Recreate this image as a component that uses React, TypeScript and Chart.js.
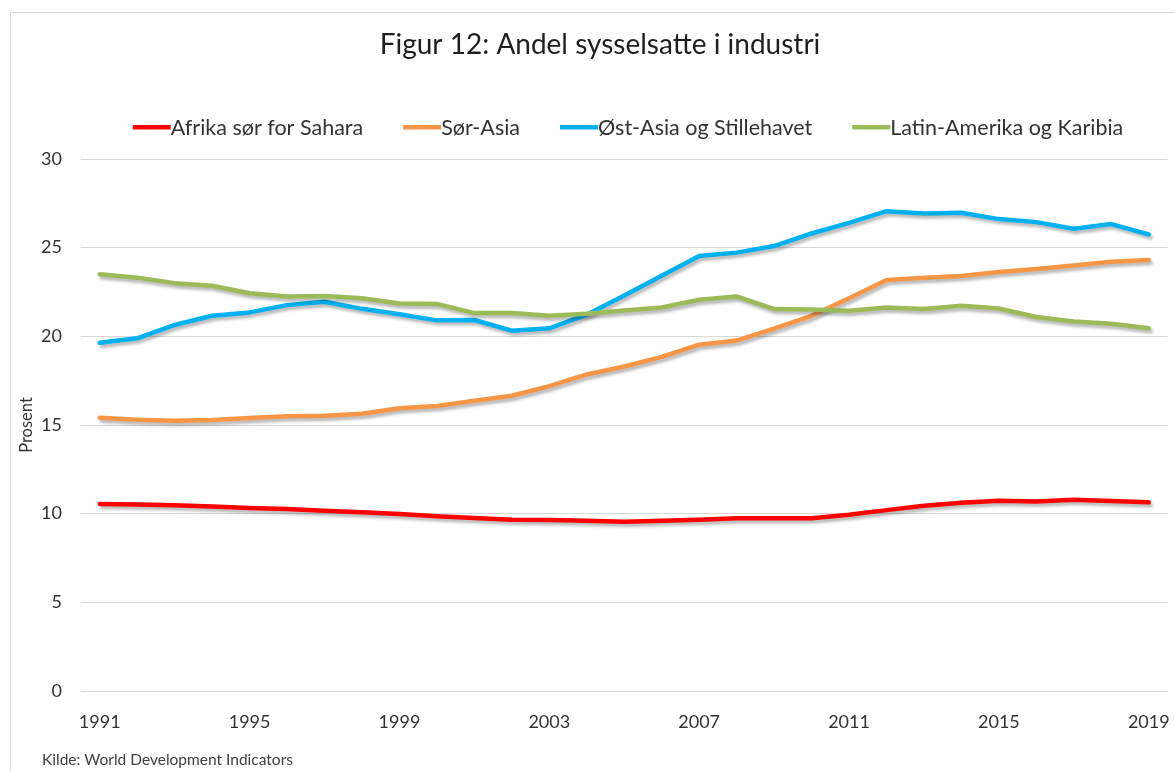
import React, { useEffect, useRef } from "react";
import { Chart, registerables } from "chart.js";

Chart.register(...registerables);

const years = [
  "1991", "1992", "1993", "1994", "1995", "1996", "1997", "1998", "1999", "2000",
  "2001", "2002", "2003", "2004", "2005", "2006", "2007", "2008", "2009", "2010",
  "2011", "2012", "2013", "2014", "2015", "2016", "2017", "2018", "2019",
];
const xTickLabels = ["1991", "1995", "1999", "2003", "2007", "2011", "2015", "2019"];

const seriesNames = [
  "Afrika sør for Sahara",
  "Sør-Asia",
  "Øst-Asia og Stillehavet",
  "Latin-Amerika og Karibia",
];
const seriesColors = ["#FF0000", "#F79646", "#00B0F0", "#9BBB59"];

const afrika = [
  10.55, 10.51, 10.47, 10.41, 10.32, 10.26, 10.17, 10.08, 9.98, 9.85,
  9.76, 9.66, 9.64, 9.6, 9.55, 9.6, 9.66, 9.74, 9.74, 9.74,
  9.94, 10.2, 10.45, 10.62, 10.73, 10.68, 10.79, 10.71, 10.64,
];
const sorAsia = [
  15.41, 15.3, 15.24, 15.28, 15.39, 15.49, 15.52, 15.64, 15.94, 16.07,
  16.37, 16.65, 17.19, 17.85, 18.3, 18.84, 19.53, 19.76, 20.43, 21.16,
  22.15, 23.18, 23.31, 23.4, 23.63, 23.8, 24.0, 24.2, 24.31,
];
const ostAsia = [
  19.64, 19.89, 20.64, 21.16, 21.35, 21.76, 21.95, 21.55, 21.25, 20.9,
  20.92, 20.32, 20.45, 21.22, 22.3, 23.41, 24.53, 24.72, 25.09, 25.8,
  26.4, 27.06, 26.93, 26.97, 26.61, 26.44, 26.07, 26.33, 25.75,
];
const latin = [
  23.5, 23.31, 23.0, 22.85, 22.43, 22.25, 22.28, 22.15, 21.85, 21.83,
  21.31, 21.31, 21.16, 21.27, 21.46, 21.63, 22.06, 22.25, 21.54, 21.52,
  21.44, 21.63, 21.54, 21.72, 21.57, 21.09, 20.84, 20.71, 20.45,
];
const seriesValues = [afrika, sorAsia, ostAsia, latin];

const titleText = "Figur 12: Andel sysselsatte i industri";
const yAxisTitle = "Prosent";
const sourceText = "Kilde: World Development Indicators";

const FONT = "Lato, 'Open Sans', sans-serif";
const W = 1180;
const H = 770;

export default function App() {
  const ref = useRef<HTMLCanvasElement>(null);

  useEffect(() => {
    const canvas = ref.current;
    if (!canvas) return;

    const framePlugin = {
      id: "frame",
      beforeDraw(chart: any) {
        const ctx = chart.ctx;
        ctx.save();
        ctx.fillStyle = "#ffffff";
        ctx.fillRect(0, 0, W, H);
        ctx.strokeStyle = "#d9d9d9";
        ctx.lineWidth = 1;
        ctx.strokeRect(0.5, 0.5, W - 1, H - 1);
        ctx.restore();
      },
      afterDraw(chart: any) {
        const ctx = chart.ctx;
        ctx.save();
        // title
        ctx.fillStyle = "#1f1f1f";
        ctx.font = `28px ${FONT}`;
        ctx.textAlign = "center";
        ctx.textBaseline = "middle";
        ctx.fillText(titleText, 590, 33);

        // legend
        ctx.font = `21.5px ${FONT}`;
        const lineW = 38;
        const gap = 40;
        const widths = seriesNames.map((n) => ctx.measureText(n).width);
        const total =
          widths.reduce((a, b) => a + b, 0) + lineW * seriesNames.length + gap * (seriesNames.length - 1);
        let x = 618 - total / 2;
        const ly = 115;
        ctx.textAlign = "left";
        ctx.textBaseline = "middle";
        seriesNames.forEach((n, i) => {
          ctx.fillStyle = seriesColors[i];
          ctx.fillRect(x, ly - 2, lineW, 4.5);
          x += lineW;
          ctx.fillStyle = "#333333";
          ctx.fillText(n, x, ly + 1);
          x += widths[i] + gap;
        });

        // source
        ctx.font = `15.5px ${FONT}`;
        ctx.fillStyle = "#404040";
        ctx.textAlign = "left";
        ctx.fillText(sourceText, 32, 748);
        ctx.restore();
      },
    };

    const shadowPlugin = {
      id: "lineShadow",
      beforeDatasetDraw(chart: any) {
        const ctx = chart.ctx;
        ctx.save();
        ctx.shadowColor = "rgba(0,0,0,0.28)";
        ctx.shadowBlur = 3;
        ctx.shadowOffsetX = 2;
        ctx.shadowOffsetY = 3;
      },
      afterDatasetDraw(chart: any) {
        chart.ctx.restore();
      },
    };

    const chart = new Chart(canvas, {
      type: "line",
      data: {
        labels: years,
        datasets: seriesValues.map((vals, i) => ({
          label: seriesNames[i],
          data: vals,
          borderColor: seriesColors[i],
          backgroundColor: seriesColors[i],
          borderWidth: 4.5,
          pointRadius: 0,
          tension: 0,
          borderCapStyle: "round" as const,
          borderJoinStyle: "round" as const,
          fill: false,
          order: seriesValues.length - 1 - i,
        })),
      },
      options: {
        responsive: false,
        animation: false,
        devicePixelRatio: 1,
        layout: { padding: { top: 147, left: 0, right: 21, bottom: 0 } },
        plugins: {
          legend: { display: false },
          title: { display: false },
          tooltip: { enabled: false },
        },
        scales: {
          x: {
            offset: true,
            grid: { display: false, drawTicks: false },
            border: { display: false },
            ticks: {
              autoSkip: false,
              maxRotation: 0,
              minRotation: 0,
              padding: 20,
              color: "#333333",
              font: { family: FONT, size: 18 },
              callback: (_v: any, i: number) => (xTickLabels.includes(years[i]) ? years[i] : ""),
            },
            afterFit(scale: any) {
              scale.height = 91;
            },
          },
          y: {
            min: 0,
            max: 30,
            ticks: {
              stepSize: 5,
              padding: 19,
              color: "#333333",
              font: { family: FONT, size: 18 },
            },
            grid: { color: "#d9d9d9", lineWidth: 1, drawTicks: false },
            border: { display: false },
            title: {
              display: true,
              text: yAxisTitle,
              color: "#333333",
              font: { family: FONT, size: 16.5 },
              padding: { top: 7, bottom: 0 },
            },
            afterFit(scale: any) {
              scale.width = 71;
            },
          },
        },
      },
      plugins: [framePlugin, shadowPlugin],
    });

    return () => chart.destroy();
  }, []);

  return (
    <div
      style={{
        position: "fixed",
        left: 0,
        top: 0,
        width: "100vw",
        height: "100vh",
        overflow: "hidden",
        background: "#fff",
      }}
    >
      <canvas
        ref={ref}
        width={W}
        height={H}
        style={{ position: "absolute", left: 10, top: 12, width: W, height: H }}
      />
    </div>
  );
}
